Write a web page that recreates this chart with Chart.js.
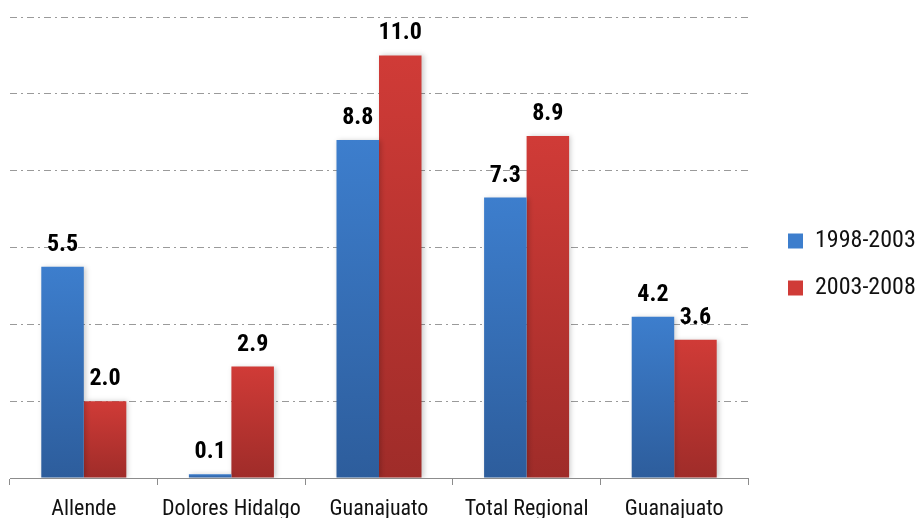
<!DOCTYPE html>
<html><head><meta charset="utf-8">
<script src="https://cdn.jsdelivr.net/npm/chart.js@4"></script>
<style>html,body{margin:0;padding:0;background:#fff;overflow:hidden}</style>
</head><body>
<canvas id="c" width="916" height="518"></canvas>
<script>
// ---- data ----
const categories = ['Allende', 'Dolores Hidalgo', 'Guanajuato', 'Total Regional', 'Guanajuato'];
const seriesNames = ['1998-2003', '2003-2008'];
const values1998 = [5.5, 0.1, 8.8, 7.3, 4.2];
const values2003 = [2.0, 2.9, 11.0, 8.9, 3.6];
const yTicks = [0, 2, 4, 6, 8, 10, 12];

const FONT = "'Roboto Condensed', 'Liberation Sans Narrow', Arial, sans-serif";

function gradientFill(top, bottom, mid) {
  return function (ctx) {
    const chart = ctx.chart;
    const y = chart.scales && chart.scales.y;
    if (ctx.type !== 'data' || !y || !chart.chartArea) return mid;
    const yTop = y.getPixelForValue(ctx.raw);
    const yBot = y.getPixelForValue(0);
    if (!isFinite(yTop) || !isFinite(yBot) || Math.abs(yBot - yTop) < 1) return top;
    const g = chart.ctx.createLinearGradient(0, yTop, 0, yBot);
    g.addColorStop(0, top);
    g.addColorStop(1, bottom);
    return g;
  };
}

const barShadow = {
  id: 'barShadow',
  beforeDatasetsDraw(chart) {
    const c = chart.ctx;
    c.save();
    c.shadowColor = 'rgba(0,0,0,0.2)';
    c.shadowBlur = 5;
    c.shadowOffsetX = 2;
    c.shadowOffsetY = 0;
  },
  afterDatasetsDraw(chart) { chart.ctx.restore(); }
};

const valueLabels = {
  id: 'valueLabels',
  afterDatasetsDraw(chart) {
    const c = chart.ctx;
    c.save();
    c.font = 'bold 24px ' + FONT;
    c.fillStyle = '#000';
    c.textAlign = 'center';
    c.textBaseline = 'alphabetic';
    chart.data.datasets.forEach((ds, i) => {
      const meta = chart.getDatasetMeta(i);
      meta.data.forEach((bar, j) => {
        c.fillText(ds.data[j].toFixed(1), bar.x, bar.y - 16);
      });
    });
    c.restore();
  }
};

const LEGEND_W = 168;
const legendPlace = {
  id: 'legendPlace',
  beforeLayout(chart) {
    const lg = chart.legend;
    if (lg && !lg.__patched) {
      const orig = lg.fit;
      lg.fit = function () { orig.call(this); this.width = LEGEND_W; };
      lg.__patched = true;
    }
  },
  afterLayout(chart) {
    const lg = chart.legend;
    if (lg) { lg.left += 17; lg.right += 17; lg.top -= 3; lg.bottom -= 3; }
  }
};

new Chart(document.getElementById('c'), {
  type: 'bar',
  data: {
    labels: categories,
    datasets: [
      { label: seriesNames[0], data: values1998,
        backgroundColor: gradientFill('#3d7ecd', '#2d5d9c', '#3670b8'), borderWidth: 0 },
      { label: seriesNames[1], data: values2003,
        backgroundColor: gradientFill('#d03b37', '#9f2c29', '#c03532'), borderWidth: 0 }
    ]
  },
  options: {
    responsive: false,
    animation: false,
    devicePixelRatio: 1,
    layout: { padding: { left: 10, top: 17, right: 0, bottom: 0 } },
    datasets: { bar: { categoryPercentage: 0.576, barPercentage: 1.0 } },
    plugins: {
      legend: {
        position: 'right',
        labels: {
          boxWidth: 15, boxHeight: 15, padding: 23,
          color: '#111',
          font: { family: FONT, size: 24 }
        }
      },
      tooltip: { enabled: false },
      title: { display: false }
    },
    scales: {
      x: {
        grid: { display: true, drawOnChartArea: false, drawTicks: true, tickLength: 7, color: '#8c8c8c', offset: true },
        border: { display: true, color: '#8c8c8c', width: 1 },
        ticks: { color: '#111', font: { family: FONT, size: 22 }, padding: 11, maxRotation: 0, autoSkip: false },
        afterFit(scale) { scale.height = 40; }
      },
      y: {
        min: yTicks[0],
        max: yTicks[yTicks.length - 1],
        ticks: { display: false, stepSize: yTicks[1] - yTicks[0] },
        grid: { color: '#9a9a9a', lineWidth: 1, drawTicks: false },
        border: { display: false, dash: [7, 4, 2, 4] },
        afterFit(scale) { scale.width = 0; }
      }
    }
  },
  plugins: [legendPlace, barShadow, valueLabels]
});
</script>
</body></html>
